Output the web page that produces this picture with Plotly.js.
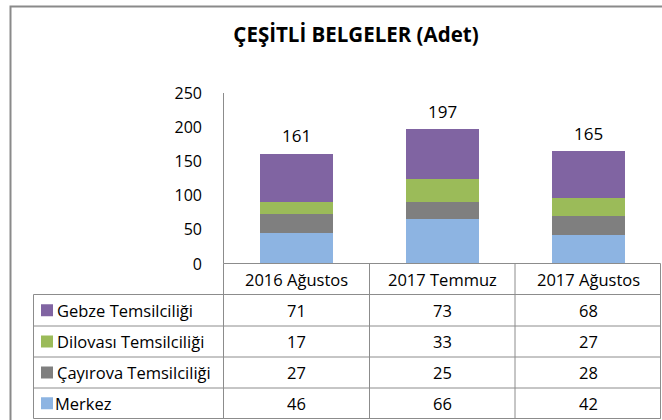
<!DOCTYPE html>
<html><head><meta charset="utf-8">
<script src="https://cdn.plot.ly/plotly-3.0.1.min.js"></script>
<style>html,body{margin:0;padding:0;background:#fff;}</style>
</head><body>
<div id="chart" style="width:662px;height:420px"></div>
<script>
// ---- data ----
const categories = ['2016 Ağustos', '2017 Temmuz', '2017 Ağustos'];
const merkez   = [46, 66, 42];
const cayirova = [27, 25, 28];
const dilovasi = [17, 33, 27];
const gebze    = [71, 73, 68];
const seriesNames = ['Merkez', 'Çayırova Temsilciliği', 'Dilovası Temsilciliği', 'Gebze Temsilciliği'];
const yTicks = [0, 50, 100, 150, 200, 250];

// ---- styles ----
const seriesValues = [merkez, cayirova, dilovasi, gebze];
const seriesColors = ['#8DB4E2', '#7F7F7F', '#9BBB59', '#8064A2'];
const FONT = '"Open Sans", Lato, sans-serif';
const W = 662, H = 420;
const L = 223, R = 1, T = 93, B = 1;
const plotW = W - L - R, plotH = H - T - B;
const px2x = p => (p - L) / plotW;
const px2y = p => 1 - (p - T) / plotH;
const pxPerUnit = 0.684;
const yMin = 250 - plotH / pxPerUnit;
const gridColor = '#8c8c8c';

const traces = seriesValues.map((vals, i) => ({
  type: 'bar', x: categories, y: vals, name: seriesNames[i],
  marker: {color: seriesColors[i], line: {width: 0}},
  width: 0.5, hoverinfo: 'skip', showlegend: false
}));

const totals = categories.map((c, j) => seriesValues.reduce((s, v) => s + v[j], 0));

const shapes = [];
const annotations = [];
const line = (x0, y0, x1, y1, w, c) => shapes.push({type: 'line', xref: 'paper', yref: 'paper',
  x0: px2x(x0), x1: px2x(x1), y0: px2y(y0), y1: px2y(y1), line: {color: c || gridColor, width: w || 1}});

// outer chart border
shapes.push({type: 'rect', xref: 'paper', yref: 'paper', x0: px2x(10.5), x1: px2x(690), y0: px2y(6.5), y1: px2y(440),
  line: {color: '#8a8a8a', width: 2}, fillcolor: 'rgba(0,0,0,0)'});

// table geometry (pixels)
const rowTops = [263.5, 294.5, 326, 357, 388, 418.5];
const colX = [223.5, 369.5, 515, 660.5];
const tableLeft = 33.5;
line(223.5, 93, 223.5, 263.5);
line(colX[0], rowTops[0], colX[3], rowTops[0]);
for (let r = 1; r < rowTops.length; r++) line(tableLeft, rowTops[r], colX[3], rowTops[r]);
line(tableLeft, rowTops[1], tableLeft, rowTops[5]);
colX.forEach(x => line(x, rowTops[0], x, rowTops[5]));

const TS = 16.5;
categories.forEach((c, j) => annotations.push({xref: 'x', yref: 'paper', x: c, y: px2y((rowTops[0] + rowTops[1]) / 2),
  text: c, showarrow: false, xanchor: 'center', yanchor: 'middle', font: {family: FONT, size: TS, color: '#000'}}));

const rowOrder = [3, 2, 1, 0];
rowOrder.forEach((si, r) => {
  const yc = (rowTops[r + 1] + rowTops[r + 2]) / 2;
  shapes.push({type: 'rect', xref: 'paper', yref: 'paper', x0: px2x(41), x1: px2x(53), y0: px2y(yc - 6), y1: px2y(yc + 6),
    fillcolor: seriesColors[si], line: {width: 0}});
  annotations.push({xref: 'paper', yref: 'paper', x: px2x(si === 0 ? 53 : 55), y: px2y(yc), text: seriesNames[si],
    showarrow: false, xanchor: 'left', yanchor: 'middle', font: {family: FONT, size: TS, color: '#000'}});
  categories.forEach((c, j) => annotations.push({xref: 'x', yref: 'paper', x: c, y: px2y(yc),
    text: String(seriesValues[si][j]), showarrow: false, xanchor: 'center', yanchor: 'middle',
    font: {family: FONT, size: TS, color: '#000'}}));
});

categories.forEach((c, j) => annotations.push({xref: 'x', yref: 'y', x: c, y: totals[j], yshift: 18,
  text: String(totals[j]), showarrow: false, xanchor: 'center', yanchor: 'middle',
  font: {family: FONT, size: 17, color: '#000'}}));

const layout = {
  width: W, height: H,
  margin: {l: L, r: R, t: T, b: B, pad: 0},
  paper_bgcolor: '#fff', plot_bgcolor: 'rgba(0,0,0,0)',
  barmode: 'stack', bargap: 0.5,
  title: {text: '<b>ÇEŞİTLİ BELGELER (Adet)</b>', x: 356 / W, xanchor: 'center', y: 1 - 35 / H, yanchor: 'middle',
    font: {family: FONT, size: 20.5, color: '#000'}},
  xaxis: {type: 'category', range: [-0.5, 2.5], showticklabels: false, showgrid: false, zeroline: false, showline: false, ticks: '', fixedrange: true},
  yaxis: {range: [yMin, 250], tickvals: yTicks, ticktext: yTicks.map(String), showgrid: false, zeroline: false, showline: false,
    ticks: '', ticklabelstandoff: 20, tickfont: {family: FONT, size: 16, color: '#000'}},
  shapes: shapes, annotations: annotations
};

Plotly.newPlot('chart', traces, layout, {displayModeBar: false, staticPlot: true});
</script>
</body></html>
